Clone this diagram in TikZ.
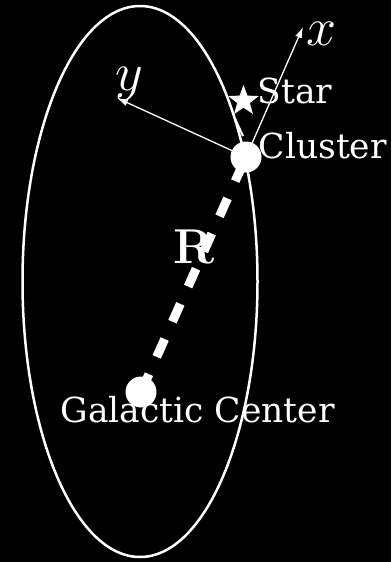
\RequirePackage{fix-cm}
\documentclass[tikz,border=0pt]{standalone}
\usepackage[no-math]{fontspec}
\setmainfont{DejaVu Serif}
\usetikzlibrary{arrows.meta,shapes.geometric}
\begin{document}
\begin{tikzpicture}[x=1pt,y=-1pt,
  lbl/.style={text=white,font=\fontsize{34.5}{40}\selectfont,inner sep=0pt},
  mathlbl/.style={text=white,font=\fontsize{54}{60}\selectfont,inner sep=0pt},
  boldlbl/.style={text=white,font=\fontsize{49}{56}\fontencoding{OT1}\fontfamily{cmr}\fontseries{bx}\fontshape{n}\selectfont,inner sep=0pt},
  dot/.style={circle,fill=white,minimum size=31pt,inner sep=0pt},
  axis/.style={white,line width=1.3pt,-{Latex[length=11pt,width=7pt]}},
  orbit/.style={white,line width=2.5pt},
  radial/.style={white,line width=9pt,dash pattern=on 19.5pt off 19pt}]
\fill[black] (0,0) rectangle (391,562);
\useasboundingbox (0,0) rectangle (391,562);
% orbit
\draw[orbit] (140,281.5) ellipse [x radius=117.5pt, y radius=275.5pt];
\coordinate (tip) at (235.2,119);
\coordinate (barb) at (243,136);
\draw[white,line width=2pt] (tip) -- (barb);
% centres
\coordinate (gcc) at (141,392);
\coordinate (clc) at (246,157);
\draw[radial] (gcc) -- (clc);
% axes
\coordinate (xend) at (303,27);
\coordinate (yend) at (117,98);
\draw[axis] (clc) -- (xend);
\draw[axis] (clc) -- (yend);
% dots
\node[dot] (gc) at (gcc) {};
\node[dot] (cl) at (clc) {};
% star
\node[star,star points=5,star point ratio=2.4,minimum size=32pt,inner sep=0pt,fill=white] (st) at (243.5,101) {};
% labels
\node[lbl,anchor=base west] (stl) at (257.5,103) {Star};
\node[lbl,anchor=base west] (cll) at (258.5,158) {Cluster};
\node[lbl,anchor=base] (gcl) at (197.5,422) {Galactic Center};
\node[boldlbl,anchor=base] (rl) at (194,263) {R};
\node[mathlbl,anchor=base] (xl) at (321.5,45) {$x$};
\node[mathlbl,anchor=base] (yl) at (129.5,90) {$y$};
\end{tikzpicture}
\end{document}
